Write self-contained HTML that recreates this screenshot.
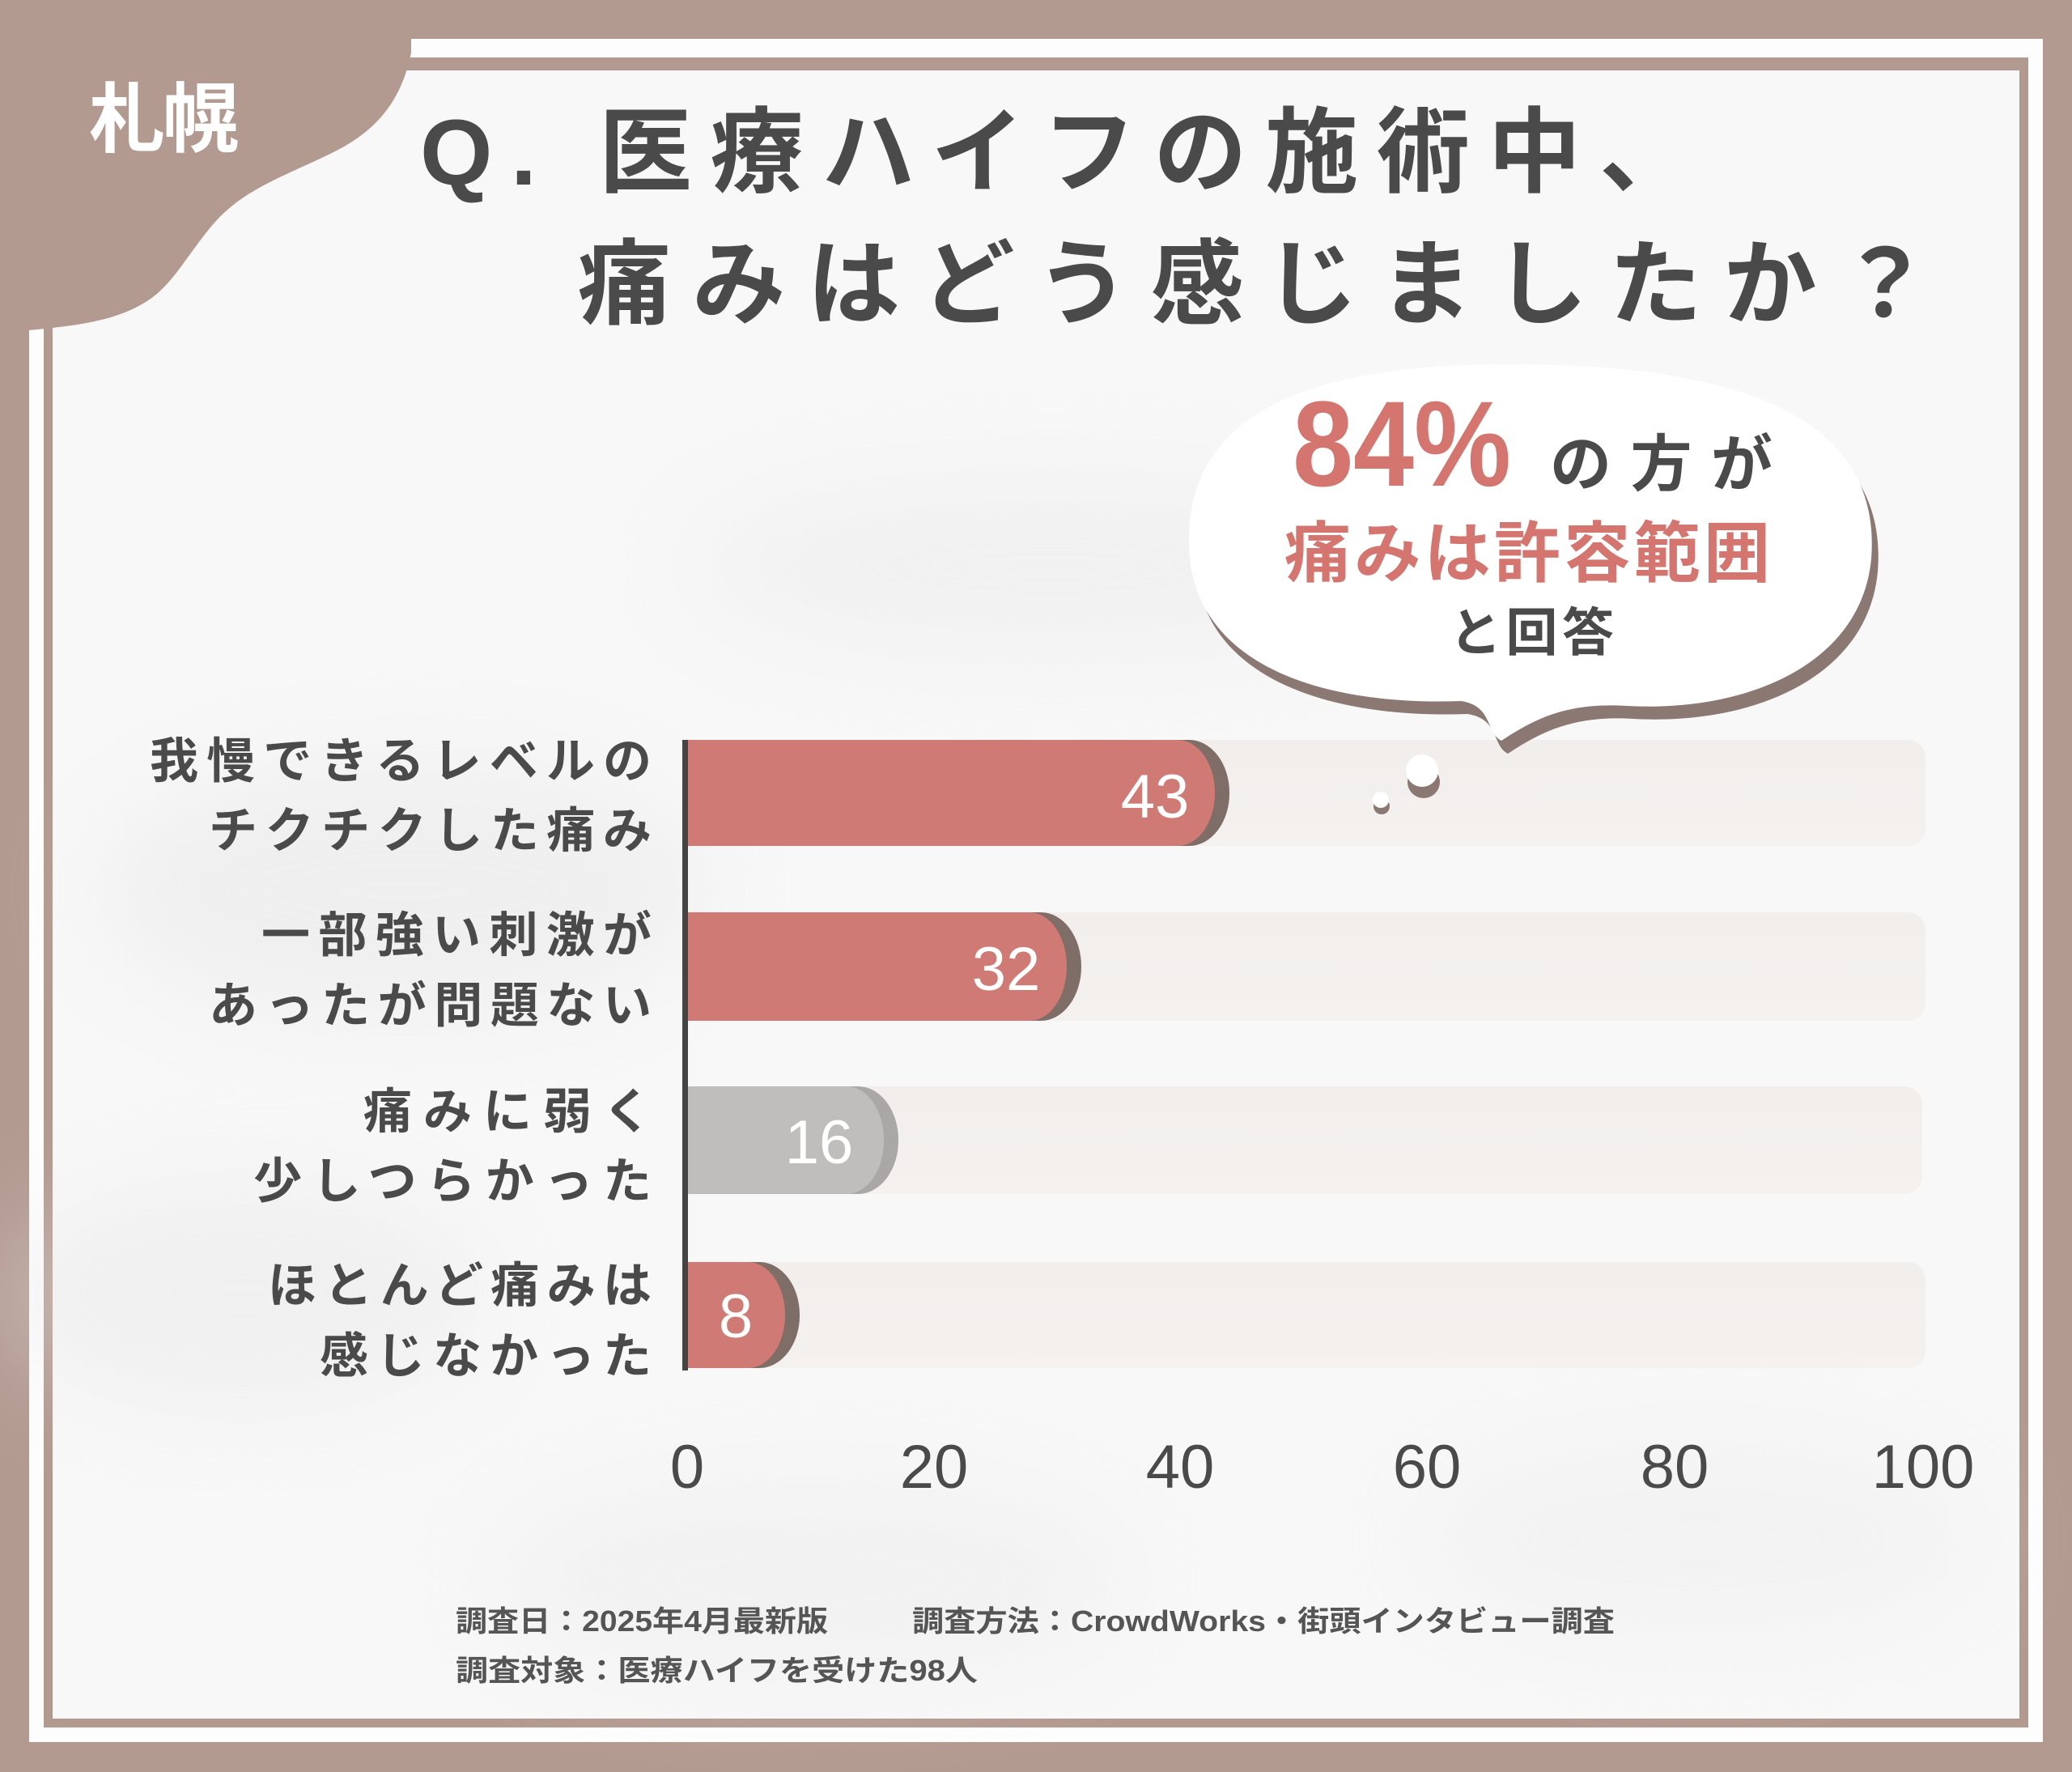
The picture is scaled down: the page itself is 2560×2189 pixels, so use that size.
<!DOCTYPE html>
<html><head><meta charset="utf-8"><style>
html,body{margin:0;padding:0;background:#b39a91;}
svg{display:block}
text{font-family:"Liberation Sans","Noto Sans CJK JP",sans-serif;}
</style></head><body>
<svg width="2560" height="2189" viewBox="0 0 2560 2189" xmlns="http://www.w3.org/2000/svg">
<defs>
<filter id="blur" x="-50%" y="-50%" width="200%" height="200%"><feGaussianBlur stdDeviation="60"/></filter>
<linearGradient id="trk" x1="0" y1="0" x2="0" y2="1"><stop offset="0" stop-color="#f1eeec"/><stop offset="1" stop-color="#f4f1ef"/></linearGradient>
</defs>
<rect x="0" y="0" width="2560" height="2189" fill="#b39a91"/>
<rect x="36" y="48" width="2488" height="2104" fill="#fdfdfd"/>
<rect x="54" y="71" width="2452" height="2063" fill="#b39a91"/>
<rect x="65" y="87" width="2430" height="2036" fill="#f8f8f8"/>
<g filter="url(#blur)" opacity="0.4">
<ellipse cx="500" cy="1100" rx="380" ry="160" fill="#e2e2e2"/>
<ellipse cx="300" cy="1600" rx="300" ry="140" fill="#e4e4e4"/>
<ellipse cx="1300" cy="700" rx="450" ry="110" fill="#e6e6e6"/>
<ellipse cx="1000" cy="1950" rx="400" ry="120" fill="#e8e8e8"/>
<ellipse cx="2100" cy="1900" rx="350" ry="120" fill="#eaeaea"/>
</g>
<!-- corner blob -->
<path d="M0,0 L508,0 L508,65 C495,130 460,165 408,190 C350,218 300,235 265,275 C235,310 220,340 195,362 C160,392 110,400 65,405 L36,408 L0,408 Z" fill="#b39a91"/>
<text x="110" y="180" font-size="94" font-weight="bold" fill="#ffffff" textLength="185" lengthAdjust="spacing">札幌</text>
<!-- title -->
<text x="519" y="228" font-size="115" font-weight="bold" fill="#4a4a4a" textLength="1572" lengthAdjust="spacing">Q. 医療ハイフの施術中、</text>
<text x="714" y="391" font-size="115" font-weight="bold" fill="#4a4a4a" textLength="1672" lengthAdjust="spacing">痛みはどう感じましたか？</text>
<!-- tracks -->
<g fill="url(#trk)">
<rect x="847" y="914" width="1532" height="131" rx="22"/>
<rect x="847" y="1127" width="1532" height="134" rx="22"/>
<rect x="847" y="1342" width="1528" height="133" rx="22"/>
<rect x="847" y="1559" width="1532" height="131" rx="22"/>
</g>
<!-- bars -->
<path d="M847,914 H1469 A50,65 0 0 1 1519,979 A50,65 0 0 1 1469,1045 H847 Z" fill="#7f6d68"/>
<path d="M847,914 H1455 A46,65 0 0 1 1501,979 A46,65 0 0 1 1455,1045 H847 Z" fill="#cf7a74"/>
<path d="M847,1127 H1286 A50,67 0 0 1 1336,1194 A50,67 0 0 1 1286,1261 H847 Z" fill="#7f6d68"/>
<path d="M847,1127 H1272 A46,67 0 0 1 1318,1194 A46,67 0 0 1 1272,1261 H847 Z" fill="#cf7a74"/>
<path d="M847,1342 H1060 A50,66 0 0 1 1110,1408 A50,66 0 0 1 1060,1475 H847 Z" fill="#a9a8a7"/>
<path d="M847,1342 H1046 A46,66 0 0 1 1092,1408 A46,66 0 0 1 1046,1475 H847 Z" fill="#c0bebc"/>
<path d="M847,1559 H938 A50,65 0 0 1 988,1624 A50,65 0 0 1 938,1690 H847 Z" fill="#7f6d68"/>
<path d="M847,1559 H924 A46,65 0 0 1 970,1624 A46,65 0 0 1 924,1690 H847 Z" fill="#cf7a74"/>
<rect x="843" y="914" width="7" height="779" fill="#444"/>
<g fill="#ffffff" font-size="76" text-anchor="middle">
<text x="1427" y="1010">43</text>
<text x="1243" y="1223">32</text>
<text x="1012" y="1437">16</text>
<text x="909" y="1652">8</text>
</g>
<!-- category labels -->
<g fill="#4a4a4a" font-size="60" font-weight="bold">
<text x="185" y="961" textLength="620" lengthAdjust="spacing">我慢できるレベルの</text>
<text x="258" y="1047" textLength="547" lengthAdjust="spacing">チクチクした痛み</text>
<text x="323" y="1176" textLength="482" lengthAdjust="spacing">一部強い刺激が</text>
<text x="258" y="1263" textLength="547" lengthAdjust="spacing">あったが問題ない</text>
<text x="449" y="1394" textLength="356" lengthAdjust="spacing">痛みに弱く</text>
<text x="313" y="1480" textLength="492" lengthAdjust="spacing">少しつらかった</text>
<text x="331" y="1609" textLength="474" lengthAdjust="spacing">ほとんど痛みは</text>
<text x="395" y="1696" textLength="410" lengthAdjust="spacing">感じなかった</text>
</g>
<!-- ticks -->
<g fill="#4a4a4a" font-size="76" text-anchor="middle">
<text x="849" y="1838">0</text>
<text x="1154" y="1838">20</text>
<text x="1458" y="1838">40</text>
<text x="1763" y="1838">60</text>
<text x="2069" y="1838">80</text>
<text x="2376" y="1838">100</text>
</g>
<!-- bubble -->
<g transform="translate(8,16)"><path d="M1470,690 C1455,520 1600,448 1870,450 C2160,450 2325,520 2312,690 C2300,820 2160,880 2010,872 C1940,868 1900,885 1855,915 C1835,905 1845,872 1805,866 C1650,872 1485,830 1470,690 Z" fill="#8c7873"/></g>
<path d="M1470,690 C1455,520 1600,448 1870,450 C2160,450 2325,520 2312,690 C2300,820 2160,880 2010,872 C1940,868 1900,885 1855,915 C1835,905 1845,872 1805,866 C1650,872 1485,830 1470,690 Z" fill="#ffffff"/>
<circle cx="1759" cy="966" r="20" fill="#8c7873"/><circle cx="1757" cy="952" r="20" fill="#ffffff"/>
<circle cx="1707" cy="996" r="10" fill="#8c7873"/><circle cx="1706" cy="988" r="10" fill="#ffffff"/>
<text x="1597" y="600" font-size="150" font-weight="bold" fill="#d4766f" textLength="270" lengthAdjust="spacingAndGlyphs">84%</text>
<text x="1915" y="600" font-size="76" font-weight="bold" fill="#4a4a4a" textLength="275" lengthAdjust="spacing">の方が</text>
<text x="1587" y="712" font-size="82" font-weight="bold" fill="#d4766f" textLength="600" lengthAdjust="spacing">痛みは許容範囲</text>
<text x="1791" y="804" font-size="64" font-weight="bold" fill="#4a4a4a" textLength="203" lengthAdjust="spacing">と回答</text>
<!-- footer -->
<g fill="#555" font-size="36" font-weight="bold">
<text x="563" y="2015" textLength="460" lengthAdjust="spacingAndGlyphs">調査日：2025年4月最新版</text>
<text x="1127" y="2015" textLength="868" lengthAdjust="spacingAndGlyphs">調査方法：CrowdWorks・街頭インタビュー調査</text>
<text x="563" y="2076" textLength="645" lengthAdjust="spacingAndGlyphs">調査対象：医療ハイフを受けた98人</text>
</g>
</svg>
</body></html>
